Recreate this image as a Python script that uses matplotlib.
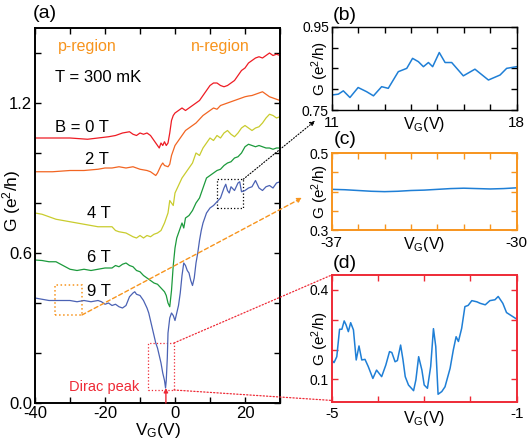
import numpy as np
import matplotlib
matplotlib.use("Agg")
import matplotlib.pyplot as plt
from matplotlib.patches import Rectangle, ConnectionPatch

plt.rcParams['font.family'] = ['Liberation Sans', 'DejaVu Sans']
plt.rcParams['mathtext.fontset'] = 'custom'
plt.rcParams['mathtext.rm'] = 'Liberation Sans'
plt.rcParams['mathtext.it'] = 'Liberation Sans'

# ---- main panel (a): G vs V_G for several fields ----
v_b0 = [-40, -35, -30, -25, -22, -19, -17, -15, -13, -12, -11, -10, -9, -8, -7, -6, -5, -4.5, -4, -3.5, -3, -2.5, -2,
        -1.5, -1, -0.5, 0, 1, 2, 3, 4, 5, 6, 7, 8, 9, 10, 11, 12, 13, 14, 15, 16, 17, 18, 19, 20, 21, 22, 23, 24, 25,
        26, 27, 28, 29, 30]
g_b0 = [1.06, 1.06, 1.06, 1.055, 1.06, 1.065, 1.07, 1.08, 1.085, 1.075, 1.07, 1.08, 1.075, 1.08, 1.07, 1.05, 1.03,
        1.02, 1.04, 1.03, 1.045, 1.03, 1.04, 1.08, 1.13, 1.15, 1.16, 1.17, 1.18, 1.17, 1.18, 1.19, 1.2, 1.21, 1.23,
        1.25, 1.27, 1.28, 1.28, 1.27, 1.265, 1.27, 1.28, 1.29, 1.31, 1.33, 1.34, 1.36, 1.37, 1.38, 1.385, 1.38, 1.39,
        1.40, 1.39, 1.395, 1.39]

v_b2 = [-40, -35, -30, -26, -22, -20, -18, -16, -14, -12, -10, -8, -7, -6, -5.5, -5, -4, -3.5, -3, -2, -1.5, -1, 0, 1,
        2, 3, 4, 5, 6, 7, 8, 9, 10, 11, 12, 13, 14, 15, 16, 17, 18, 19, 20, 21, 22, 23, 24, 25, 26, 27, 28, 29, 30]
g_b2 = [0.925, 0.925, 0.93, 0.93, 0.935, 0.94, 0.94, 0.945, 0.94, 0.945, 0.935, 0.93, 0.925, 0.915, 0.91, 0.92, 0.95,
        0.96, 0.95, 0.945, 0.955, 0.99, 1.03, 1.05, 1.07, 1.09, 1.10, 1.11, 1.12, 1.135, 1.15, 1.16, 1.17, 1.18, 1.175,
        1.19, 1.195, 1.2, 1.205, 1.21, 1.215, 1.22, 1.225, 1.228, 1.23, 1.235, 1.24, 1.245, 1.235, 1.225, 1.22, 1.215,
        1.21]

v_b4 = [-40, -38, -36, -34, -32, -30, -28, -26, -24, -22, -20, -18, -17, -16, -14, -12, -11, -10, -9, -8, -7, -6, -5,
        -4, -3, -2, -1.5, -1, -0.5, 0, 1, 2, 3, 4, 5, 6, 7, 8, 9, 10, 11, 12, 13, 14, 15, 16, 17, 18, 19, 20, 21, 22,
        23, 24, 25, 26, 27, 28, 29, 30]
g_b4 = [0.76, 0.755, 0.745, 0.735, 0.73, 0.725, 0.72, 0.715, 0.71, 0.705, 0.705, 0.705, 0.69, 0.685, 0.68, 0.665, 0.66,
        0.67, 0.66, 0.67, 0.665, 0.675, 0.68, 0.69, 0.72, 0.76, 0.81, 0.8, 0.79, 0.84, 0.87, 0.9, 0.92, 0.94, 0.96,
        1.0, 0.99, 1.02, 1.04, 1.06, 1.05, 1.07, 1.06, 1.08, 1.09, 1.075, 1.065, 1.08, 1.1, 1.11, 1.1, 1.09, 1.10,
        1.105, 1.12, 1.14, 1.155, 1.15, 1.14, 1.145]

v_b6 = [-40, -38, -36, -34, -32, -30, -28, -26, -24, -22, -20, -18, -17, -16, -15, -14, -13, -12, -11, -10, -9, -8,
        -7, -6, -5, -4, -3, -2.5, -2, -1.5, -1, -0.5, 0, 0.5, 1, 1.5, 2, 2.5, 3, 4, 5, 6, 7, 8, 9, 10, 11, 12, 13, 14,
        15, 16, 17, 18, 19, 20, 21, 22, 23, 24, 25, 26, 27, 28, 29, 30]
g_b6 = [0.572, 0.57, 0.565, 0.565, 0.55, 0.535, 0.53, 0.535, 0.53, 0.535, 0.54, 0.54, 0.55, 0.545, 0.555, 0.56,
        0.55, 0.545, 0.53, 0.525, 0.51, 0.50, 0.49, 0.48, 0.475, 0.46, 0.445, 0.43, 0.40, 0.385, 0.45, 0.55, 0.62,
        0.66, 0.68, 0.70, 0.72, 0.70, 0.74, 0.75, 0.77, 0.80, 0.82, 0.86, 0.9, 0.91, 0.92, 0.93, 0.935, 0.95, 0.96,
        0.965, 0.98, 0.985, 1.0, 1.025, 1.035, 1.03, 1.025, 1.03, 1.025, 1.02, 1.02, 1.015, 1.02, 1.02]

v_b9 = [-40, -38, -36, -34, -32, -30, -28, -26, -24, -22, -21, -20, -19, -18, -17, -16, -15, -14, -13, -12, -11.5, -11,
        -10, -9, -8, -7.5, -7, -6.5, -6, -5.5, -5, -4.5, -4, -3.5, -3, -2.7, -2.5, -2.2, -2, -1.5, -1, -0.5, 0, 0.5,
        1, 1.5, 2, 2.5, 3, 3.5, 4, 4.5, 5, 5.5, 6, 6.5, 7, 7.5, 8, 9, 10, 11, 12, 13, 14, 14.5, 15, 15.5, 16, 17, 18,
        18.5, 19, 20, 21, 22, 23, 24, 25, 26, 27, 28, 29, 30]
g_b9 = [0.42, 0.415, 0.41, 0.41, 0.41, 0.41, 0.405, 0.41, 0.405, 0.41, 0.405, 0.395, 0.40, 0.39, 0.395, 0.385, 0.38,
        0.39, 0.425, 0.44, 0.445, 0.435, 0.43, 0.41, 0.38, 0.36, 0.33, 0.30, 0.27, 0.24, 0.22, 0.19, 0.16, 0.12, 0.09,
        0.06, 0.09, 0.18, 0.28, 0.34, 0.36, 0.35, 0.33, 0.36, 0.39, 0.44, 0.51, 0.56, 0.55, 0.53, 0.52, 0.49, 0.47,
        0.5, 0.56, 0.60, 0.65, 0.69, 0.72, 0.76, 0.78, 0.79, 0.805, 0.82, 0.86, 0.875, 0.85, 0.84, 0.865, 0.85, 0.88,
        0.885, 0.845, 0.85, 0.86, 0.865, 0.89, 0.86, 0.85, 0.865, 0.87, 0.86, 0.88, 0.885]

# ---- inset (b): zoom of 9 T curve, 11..18 V ----
v_in_b = [11.0, 11.25, 11.44, 11.69, 12.0, 12.32, 12.58, 12.89, 13.14, 13.52, 13.84, 14.06, 14.28, 14.47, 14.66,
          14.82, 15.07, 15.29, 15.54, 15.98, 16.42, 16.93, 17.37, 17.62, 18.0]
g_in_b = [0.786, 0.788, 0.796, 0.78, 0.804, 0.794, 0.784, 0.806, 0.802, 0.842, 0.85, 0.874, 0.866, 0.854, 0.864,
          0.854, 0.888, 0.864, 0.864, 0.832, 0.848, 0.822, 0.834, 0.85, 0.854]

# ---- inset (c): -37..-30 V ----
v_in_c = [-37, -36.5, -36, -35.5, -35, -34.5, -34, -33.5, -33, -32.5, -32, -31.5, -31, -30.5, -30]
g_in_c = [0.406, 0.405, 0.403, 0.401, 0.400, 0.401, 0.403, 0.404, 0.406, 0.408, 0.409, 0.408, 0.407, 0.408, 0.41]

# ---- inset (d): Dirac peak region, -5..-1 V ----
v_in_d = [-5.0, -4.95, -4.89, -4.83, -4.78, -4.73, -4.69, -4.64, -4.59, -4.53, -4.47, -4.41, -4.35, -4.28, -4.21,
          -4.11, -4.03, -3.92, -3.83, -3.75, -3.70, -3.63, -3.58, -3.51, -3.46, -3.41, -3.34, -3.23, -3.18, -3.12,
          -3.05, -3.0, -2.93, -2.86, -2.80, -2.75, -2.70, -2.62, -2.55, -2.44, -2.37, -2.31, -2.26, -2.19, -2.12,
          -2.05, -1.97, -1.86, -1.79, -1.68, -1.58, -1.47, -1.40, -1.30, -1.22, -1.11, -1.0]
g_in_d = [0.165, 0.156, 0.176, 0.268, 0.268, 0.296, 0.283, 0.26, 0.29, 0.266, 0.165, 0.212, 0.165, 0.167, 0.143,
          0.103, 0.131, 0.109, 0.148, 0.193, 0.19, 0.159, 0.163, 0.215, 0.167, 0.109, 0.081, 0.062, 0.098, 0.176,
          0.131, 0.081, 0.07, 0.143, 0.27, 0.21, 0.05, 0.059, 0.075, 0.137, 0.199, 0.243, 0.227, 0.271, 0.344, 0.348,
          0.364, 0.36, 0.355, 0.35, 0.364, 0.367, 0.378, 0.355, 0.324, 0.313, 0.302]

curves = [(v_b0, g_b0, '#ee1c24'), (v_b2, g_b2, '#f26522'), (v_b4, g_b4, '#c9cc2e'),
          (v_b6, g_b6, '#1c9a3c'), (v_b9, g_b9, '#4b62b4')]
orange = '#f7941d'
red = '#ee2a36'
inset_blue = '#1f7fd6'

W, H = 532, 443
fig = plt.figure(figsize=(W / 100, H / 100), dpi=100)


def rect(x0, y0, x1, y1):
    # pixel box -> figure fraction
    return [x0 / W, 1 - y1 / H, (x1 - x0) / W, (y1 - y0) / H]


ax = fig.add_axes(rect(35, 28, 280, 403))
for v, g, c in curves:
    ax.plot(v, g, color=c, lw=0.9)
ax.set_xlim(-40, 30)
ax.set_ylim(0, 1.5)
ax.set_xticks(np.arange(-40, 31, 10))
ax.set_xticklabels(['-40', '', '-20', '', '0', '', '20', ''])
ax.set_yticks(np.arange(0, 1.5, 0.2))
ax.set_yticklabels(['0.0', '', '', '0.6', '', '', '1.2', ''])
ax.tick_params(direction='in', top=True, right=True, labelsize=12, length=4, width=1, pad=2)
for s in ax.spines.values():
    s.set_linewidth(1.4)
ax.set_xlabel('V$_\\mathrm{G}$(V)', fontsize=12.5, labelpad=0)
ax.set_ylabel('G (e$^2$/h)', fontsize=12.5)
ax.yaxis.label.set_va('center')
ax.yaxis.set_label_coords(-0.094, 0.54)

ax.text(-25.1, 1.428, 'p-region', color=orange, fontsize=11.5, ha='center', va='center')
ax.text(12.9, 1.428, 'n-region', color=orange, fontsize=11.5, ha='center', va='center')
ax.text(-34.3, 1.304, 'T = 300 mK', fontsize=12, ha='left', va='center')
ax.text(-34.3, 1.104, 'B = 0 T', fontsize=12, ha='left', va='center')
for lab, vx, gy in [('2 T', -25.7, 0.972), ('4 T', -25.1, 0.76), ('6 T', -25.1, 0.584), ('9 T', -25.1, 0.448)]:
    ax.text(vx, gy, lab, fontsize=12, ha='left', va='center')
ax.text(-20.3, 0.064, 'Dirac peak', color=red, fontsize=10.5, ha='center', va='center')
ax.annotate('', xy=(-2.6, 0.06), xytext=(-2.6, 0.0),
            arrowprops=dict(arrowstyle='-|>', color=red, lw=1, mutation_scale=6, shrinkA=0, shrinkB=0))

# zoom boxes
ax.add_patch(Rectangle((12, 0.78), 7.5, 0.115, fill=False, ls=':', lw=0.9, ec='k'))
ax.add_patch(Rectangle((-34.3, 0.352), 7.7, 0.12, fill=False, ls=':', lw=1.1, ec=orange))
ax.add_patch(Rectangle((-7.7, 0.052), 7.4, 0.188, fill=False, ls=':', lw=0.9, ec=red))

fig.text(45 / W, 1 - 14 / H, '(a)', fontsize=14, ha='center', va='center')

# inset (b)
axb = fig.add_axes(rect(331.7, 26.7, 516.7, 110))
axb.plot(v_in_b, g_in_b, color=inset_blue, lw=1.1)
axb.set_xlim(11, 18)
axb.set_ylim(0.75, 0.95)
axb.set_xticks(np.arange(11, 19, 1))
axb.set_xticklabels(['11', '', '', '', '', '', '', '18'])
axb.set_yticks([0.75, 0.8, 0.85, 0.9, 0.95])
axb.set_yticklabels(['0.75', '', '', '', '0.95'])
fig.text(345 / W, 1 - 16 / H, '(b)', fontsize=14, ha='center', va='center')

# inset (c)
axc = fig.add_axes(rect(331.7, 153.3, 516.7, 230))
axc.plot(v_in_c, g_in_c, color=inset_blue, lw=1.1)
axc.set_xlim(-37, -30)
axc.set_ylim(0.3, 0.5)
axc.set_xticks(np.arange(-37, -29, 1))
axc.set_xticklabels(['-37', '', '', '', '', '', '', '-30'])
axc.set_yticks([0.3, 0.35, 0.4, 0.45, 0.5])
axc.set_yticklabels(['0.3', '', '', '', '0.5'])
fig.text(345 / W, 1 - 139 / H, '(c)', fontsize=14, ha='center', va='center')

# inset (d)
axd = fig.add_axes(rect(331.7, 275, 516.7, 401.7))
axd.plot(v_in_d, g_in_d, color=inset_blue, lw=1.1)
axd.set_xlim(-5, -1)
axd.set_ylim(0.025, 0.45)
axd.set_xticks(np.arange(-5, 0, 1))
axd.set_xticklabels(['-5', '', '', '', '-1'])
axd.set_yticks([0.1, 0.2, 0.3, 0.4])
axd.set_yticklabels(['0.1', '', '', '0.4'])
fig.text(345 / W, 1 - 264 / H, '(d)', fontsize=14, ha='center', va='center')

for a, ec in [(axb, 'k'), (axc, orange), (axd, red)]:
    a.tick_params(direction='in', top=True, right=True, length=4, width=1, pad=2)
    a.tick_params(axis='x', labelsize=11, pad=4)
    a.tick_params(axis='y', labelsize=10)
    a.tick_params(axis='both', colors=ec, labelcolor='k')
    for s in a.spines.values():
        s.set_color(ec)
        s.set_linewidth(1.0 if ec == 'k' else 1.4)
    a.set_ylabel('G (e$^2$/h)', fontsize=11)
    a.yaxis.label.set_va('center')
    a.yaxis.set_label_coords(-0.063, 0.5)
    a.set_xlabel('V$_\\mathrm{G}$(V)', fontsize=11.5)
    a.xaxis.set_label_coords(0.5, -0.06)
    a.xaxis.label.set_va('top')

# connectors
fig.add_artist(ConnectionPatch(xyA=(19.5, 0.895), coordsA=ax.transData, xyB=(-0.09, -0.13), coordsB=axb.transAxes,
                               arrowstyle='-|>', ls=':', color='k', lw=0.8, mutation_scale=7, shrinkA=0, shrinkB=0))
fig.add_artist(ConnectionPatch(xyA=(-26.6, 0.352), coordsA=ax.transData, xyB=(-0.16, 0.42), coordsB=axc.transAxes,
                               arrowstyle='-|>', ls=(0, (3, 2)), color=orange, lw=1.0, mutation_scale=7,
                               shrinkA=0, shrinkB=0))
fig.add_artist(ConnectionPatch(xyA=(-0.3, 0.24), coordsA=ax.transData, xyB=(0, 1), coordsB=axd.transAxes,
                               ls=':', color=red, lw=0.9))
fig.add_artist(ConnectionPatch(xyA=(-0.3, 0.052), coordsA=ax.transData, xyB=(0, 0.01), coordsB=axd.transAxes,
                               ls=':', color=red, lw=0.9))

fig.savefig('out.png', dpi=100)
